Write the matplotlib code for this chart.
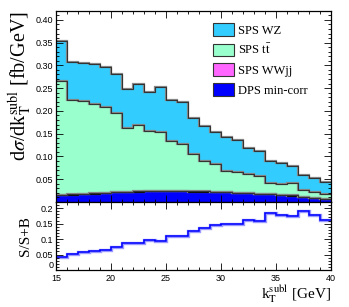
import numpy as np
import matplotlib.pyplot as plt
from matplotlib.patches import Patch
from matplotlib.ticker import MultipleLocator, FuncFormatter

plt.rcParams['font.family'] = ['Liberation Serif', 'DejaVu Serif']
plt.rcParams['mathtext.fontset'] = 'stix'

# k_T^subl binning, 1 GeV bins from 15 to 40
edges = np.arange(15, 41, 1)

# stacked contributions [fb/GeV], bottom to top
dps = [0.0145, 0.0160, 0.0174, 0.0183, 0.0193, 0.0209, 0.0217, 0.0227, 0.0236, 0.0239,
       0.0244, 0.0239, 0.0230, 0.0227, 0.0222, 0.0212, 0.0201, 0.0191, 0.0181, 0.0166,
       0.0153, 0.0139, 0.0114, 0.0092, 0.0072]
wwjj = [0.0005, 0.0005, 0.0005, 0.0005, 0.0005, 0.0005, 0.0005, 0.0005, 0.0005, 0.0005,
        0.0005, 0.0005, 0.0005, 0.0005, 0.0005, 0.0005, 0.0005, 0.0005, 0.0005, 0.0005,
        0.0005, 0.0005, 0.0005, 0.0004, 0.0004]
ttbar = [0.2500, 0.2085, 0.2041, 0.1962, 0.1892, 0.1731, 0.1398, 0.1468, 0.1319, 0.1286,
         0.1081, 0.1036, 0.0810, 0.0668, 0.0603, 0.0463, 0.0459, 0.0414, 0.0384, 0.0239,
         0.0232, 0.0266, 0.0137, 0.0130, 0.0094]
wz = [0.089, 0.083, 0.084, 0.087, 0.088, 0.0855, 0.086, 0.089, 0.085, 0.099,
      0.091, 0.091, 0.079, 0.077, 0.071, 0.074, 0.0695, 0.057, 0.056, 0.0496,
      0.047, 0.0386, 0.0344, 0.0294, 0.0275]

# S/(S+B) as shown in lower panel
ratio = [0.041, 0.052, 0.057, 0.0605, 0.065, 0.0746, 0.0876, 0.0876, 0.098, 0.095,
         0.109, 0.109, 0.1255, 0.136, 0.144, 0.149, 0.148, 0.162, 0.160, 0.183,
         0.1775, 0.175, 0.190, 0.1775, 0.161]

labels = ['SPS WZ', r'SPS t$\mathrm{\bar{t}}$', 'SPS WWjj', 'DPS min-corr']
colors = ['#33ccff', '#99ffcc', '#ff66ff', '#0000ff']

fig = plt.figure(figsize=(3.49, 3.07), dpi=100)
ax = fig.add_axes([0.1605, 0.342, 0.7875, 0.623])
ax2 = fig.add_axes([0.1605, 0.1205, 0.7875, 0.2215])

# cumulative stack (DPS at bottom)
layers = [dps, wwjj, ttbar, wz]
cum = np.cumsum(np.array(layers), axis=0)
layer_cols = [colors[3], colors[2], colors[1], colors[0]]
for i in range(len(layers) - 1, -1, -1):
    ax.stairs(cum[i], edges, baseline=0, fill=True, color=layer_cols[i], lw=0)
for i in range(len(layers)):
    ec = 'black' if i == 0 else '#333333'
    ax.stairs(cum[i], edges, baseline=None, color='#888888', lw=1.6)
    ax.stairs(cum[i], edges, baseline=None, color=ec, lw=0.8)

ax.set_xlim(15, 40)
ax.set_ylim(0, 0.42)
ax.set_yticks(np.arange(0.05, 0.41, 0.05))
ax.yaxis.set_minor_locator(MultipleLocator(0.01))
ax.xaxis.set_major_locator(MultipleLocator(5))
ax.xaxis.set_minor_locator(MultipleLocator(1))
ax.tick_params(labelbottom=False)
ax.yaxis.set_major_formatter(FuncFormatter(lambda v, p: '%.2f' % v))
ax.set_ylabel(r'd$\sigma$/dk$_{\mathrm{T}}^{\mathrm{subl}}$ [fb/GeV]', fontsize=14.5, loc='top', labelpad=1)

handles = [Patch(facecolor=c, edgecolor='#333333', lw=0.8) for c in colors]
ax.legend(handles, labels, loc='upper left', bbox_to_anchor=(213 / 349, 1 - 23 / 307),
          bbox_transform=fig.transFigure, frameon=False, fontsize=9, borderpad=0,
          handlelength=1.65, handleheight=1.2, handletextpad=0.35, labelspacing=0.5,
          borderaxespad=0)

# lower panel
ax2.stairs(ratio, edges, baseline=None, color='#9999ff', lw=2.4)
ax2.stairs(ratio, edges, baseline=None, color='#0000ff', lw=1.1)
ax2.set_xlim(15, 40)
ax2.set_ylim(0, 0.22)
ax2.set_yticks([0, 0.05, 0.1, 0.15, 0.2])
ax2.yaxis.set_minor_locator(MultipleLocator(0.01))
ax2.xaxis.set_major_locator(MultipleLocator(5))
ax2.xaxis.set_minor_locator(MultipleLocator(1))
ax2.yaxis.set_major_formatter(FuncFormatter(lambda v, p: '%g' % v))
ax2.set_ylabel('S/S+B', fontsize=11, labelpad=3)
ax2.set_xlabel(r'k$_{\mathrm{T}}^{\mathrm{subl}}$ [GeV]', fontsize=11, loc='right', labelpad=0)

for a in (ax, ax2):
    a.tick_params(which='both', direction='in', top=True, right=True, labelsize=6.5,
                  width=0.6, pad=2)
    a.tick_params(which='major', length=5)
    a.tick_params(which='minor', length=2.5)
    for lab in a.get_xticklabels() + a.get_yticklabels():
        lab.set_family(['Liberation Sans', 'DejaVu Sans'])
    for s in a.spines.values():
        s.set_linewidth(0.9)
ax2.tick_params(axis='x', pad=3)
ax2.get_yticklabels()[0].set_va('bottom')

fig.savefig('out.png', dpi=100)
